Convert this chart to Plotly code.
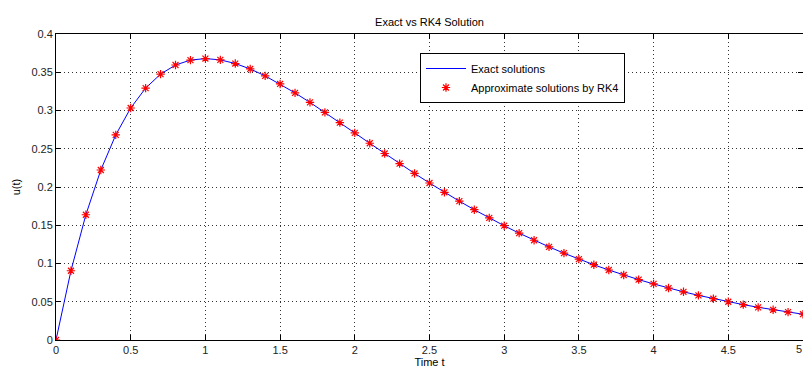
import plotly.graph_objects as go

t_values = [0.0, 0.1, 0.2, 0.3, 0.4, 0.5, 0.6, 0.7, 0.8, 0.9, 1.0,
            1.1, 1.2, 1.3, 1.4, 1.5, 1.6, 1.7, 1.8, 1.9, 2.0,
            2.1, 2.2, 2.3, 2.4, 2.5, 2.6, 2.7, 2.8, 2.9, 3.0,
            3.1, 3.2, 3.3, 3.4, 3.5, 3.6, 3.7, 3.8, 3.9, 4.0,
            4.1, 4.2, 4.3, 4.4, 4.5, 4.6, 4.7, 4.8, 4.9, 5.0]

exact_u = [0.0, 0.090484, 0.163746, 0.222245, 0.268128, 0.303265, 0.329287, 0.347610, 0.359463, 0.365913, 0.367879,
           0.366158, 0.361433, 0.354291, 0.345236, 0.334695, 0.323034, 0.310562, 0.297538, 0.284180, 0.270671,
           0.257158, 0.243767, 0.230595, 0.217723, 0.205212, 0.193111, 0.181455, 0.170268, 0.159567, 0.149361,
           0.139652, 0.130439, 0.121714, 0.113468, 0.105691, 0.098365, 0.091477, 0.085009, 0.078943, 0.073263,
           0.067948, 0.062981, 0.058345, 0.054020, 0.049990, 0.046238, 0.042748, 0.039503, 0.036489, 0.033690]

rk4_u = [0.0, 0.0905, 0.1637, 0.2222, 0.2681, 0.3033, 0.3293, 0.3476, 0.3595, 0.3659, 0.3679,
         0.3662, 0.3614, 0.3543, 0.3452, 0.3347, 0.3230, 0.3106, 0.2975, 0.2842, 0.2707,
         0.2572, 0.2438, 0.2306, 0.2177, 0.2052, 0.1931, 0.1815, 0.1703, 0.1596, 0.1494,
         0.1397, 0.1304, 0.1217, 0.1135, 0.1057, 0.0984, 0.0915, 0.0850, 0.0789, 0.0733,
         0.0679, 0.0630, 0.0583, 0.0540, 0.0500, 0.0462, 0.0427, 0.0395, 0.0365, 0.0337]

x_ticks = [0, 0.5, 1, 1.5, 2, 2.5, 3, 3.5, 4, 4.5, 5]
x_tick_labels = ["0", "0.5", "1", "1.5", "2", "2.5", "3", "3.5", "4", "4.5", "5"]
y_ticks = [0, 0.05, 0.1, 0.15, 0.2, 0.25, 0.3, 0.35, 0.4]
y_tick_labels = ["0", "0.05", "0.1", "0.15", "0.2", "0.25", "0.3", "0.35", "0.4"]

font_family = "Liberation Sans, Arial, sans-serif"
tick_font = dict(family=font_family, size=11, color="#222222")

fig = go.Figure()
fig.add_trace(go.Scatter(
    x=t_values, y=exact_u, mode="lines", name="Exact solutions",
    line=dict(color="#0000ff", width=1),
))
fig.add_trace(go.Scatter(
    x=t_values, y=rk4_u, mode="markers", name="Approximate solutions by RK4",
    marker=dict(symbol="asterisk-open", size=7, color="#ff0000",
                line=dict(color="#ff0000", width=1.2)),
))

axis_common = dict(
    showline=True, linecolor="#000000", linewidth=1, mirror="ticks",
    ticks="inside", ticklen=5, tickcolor="#000000", tickwidth=1,
    showgrid=True, gridcolor="#333333", gridwidth=1, griddash="1px,3px",
    zeroline=False,
    tickfont=tick_font,
)

fig.update_layout(
    width=803, height=372,
    margin=dict(l=56, r=0, t=34, b=32),
    paper_bgcolor="#ffffff", plot_bgcolor="#ffffff",
    font=dict(family=font_family, size=11, color="#000000"),
    title=dict(text="Exact vs RK4 Solution", x=0.5, xref="paper", xanchor="center",
               y=(372 - 22) / 372, yref="container", yanchor="middle",
               font=dict(family=font_family, size=11, color="#000000")),
    xaxis=dict(range=[0, 5], tickvals=x_ticks, ticktext=x_tick_labels,
               title=dict(text="Time t", standoff=3,
                          font=dict(family=font_family, size=11, color="#000000")),
               **axis_common),
    yaxis=dict(range=[0, 0.4], tickvals=y_ticks, ticktext=y_tick_labels,
               title=dict(text="u(t)", standoff=8,
                          font=dict(family=font_family, size=11, color="#000000")),
               **axis_common),
    showlegend=True,
    legend=dict(x=(420 - 56) / 747, y=(340 - 53) / 306, xanchor="left", yanchor="top",
                bgcolor="#ffffff", bordercolor="#000000", borderwidth=1,
                font=dict(family=font_family, size=11, color="#000000"),
                tracegroupgap=0, itemwidth=40),
)

# the last x tick label sits on the window edge; draw it explicitly, kept fully inside the page
fig.add_annotation(x=x_ticks[-1], y=0, xref="x", yref="paper", text=x_tick_labels[-1],
                   showarrow=False, xanchor="right", yanchor="top", yshift=-1, xshift=1,
                   font=tick_font)

fig.write_html("out.html")
